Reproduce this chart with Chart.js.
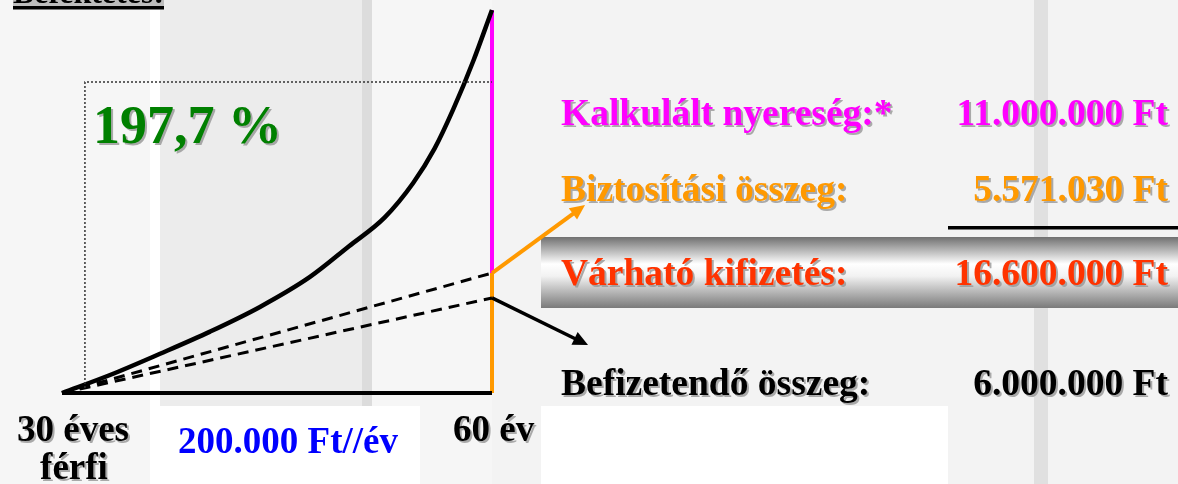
<!DOCTYPE html>
<html><head><meta charset="utf-8">
<script src="https://cdn.jsdelivr.net/npm/chart.js@4.4.1/dist/chart.umd.min.js"></script>
<style>html,body{margin:0;padding:0;background:#f1f1f1;overflow:hidden}#wrap{width:1178px;height:484px;position:relative}</style>
</head><body><div id="wrap"><canvas id="c" width="1178" height="484"></canvas></div>
<script>
// ---- data (életkor, millió Ft) ----
const ages   = [30, 33.35, 36.84, 40.33, 43.81, 47.30, 50.0, 52.5, 54.5, 56.0, 57.3, 58.7, 60];
const growth = [0, 0.78, 1.70, 2.66, 3.73, 5.03, 6.35, 7.60, 9.10, 10.60, 12.30, 14.40, 16.6];
const startAge = 30;
const endAge = 60;
const totalValue = 16.6;
const insuredSum = 5.2;
const paidIn = 4.12;
const boxAge = 31.6;
const boxTop = 13.48;
const boxBottom = 0.22;
const arrowOrangeTo = [66.49, 8.15];
const arrowBlackTo = [66.7, 2.08];

const rowLabels = ["Kalkulált nyereség:*", "Biztosítási összeg:", "Várható kifizetés:", "Befizetendő összeg:"];
const rowValues = ["11.000.000 Ft", "5.571.030 Ft", "16.600.000 Ft", "6.000.000 Ft"];
const rowColors = ["#ff00ff", "#ff9900", "#ff3300", "#000000"];
const percentLabel = "197,7 %";
const titleLabel = "Befektetés:";
const startLabel = ["30 éves", "férfi"];
const endLabel = "60 év";
const yearlyLabel = "200.000 Ft//év";

// ---- layout ----
const FONT = '"Liberation Serif","Times New Roman",serif';
const rowBase = [125, 201, 285, 395];

const deco = {
  id: 'deco',
  beforeDraw(chart) {
    const ctx = chart.ctx;
    ctx.save();
    ctx.fillStyle = '#f1f1f1';
    ctx.fillRect(0, 0, 1178, 484);
    ctx.fillStyle = '#f6f6f6'; ctx.fillRect(0, 0, 150, 484);
    ctx.fillStyle = '#ffffff'; ctx.fillRect(150, 0, 10, 484);
    ctx.fillStyle = '#ececec'; ctx.fillRect(160, 0, 202, 484);
    ctx.fillStyle = '#dcdcdc'; ctx.fillRect(362, 0, 10, 484);
    ctx.fillStyle = '#f6f6f6'; ctx.fillRect(372, 0, 120, 484);
    ctx.fillStyle = '#f3f3f3'; ctx.fillRect(492, 0, 686, 484);
    ctx.fillStyle = '#e0e0e0'; ctx.fillRect(1034, 0, 14, 484);
    // title highlight + underline
    ctx.fillStyle = '#bdbdbd'; ctx.fillRect(13, 0, 151, 6);
    ctx.font = 'bold 32px ' + FONT;
    ctx.fillStyle = '#000'; ctx.textBaseline = 'alphabetic'; ctx.textAlign = 'left';
    ctx.fillText(titleLabel, 13, 3);
    ctx.fillRect(13, 6, 151, 3.5);
    // white boxes
    ctx.fillStyle = '#ffffff';
    ctx.fillRect(157, 406, 263, 78);
    ctx.fillRect(541, 406, 407, 78);
    // gray bar
    const g = ctx.createLinearGradient(0, 237, 0, 308);
    g.addColorStop(0, '#707070');
    g.addColorStop(0.38, '#ffffff');
    g.addColorStop(0.55, '#f2f2f2');
    g.addColorStop(1, '#7a7a7a');
    ctx.fillStyle = g;
    ctx.fillRect(541, 237, 637, 71);
    // sum line
    ctx.fillStyle = '#000';
    ctx.fillRect(948, 226, 230, 3.5);
    ctx.restore();
  },
  afterDatasetsDraw(chart) {
    const ctx = chart.ctx, xs = chart.scales.x, ys = chart.scales.y;
    function arrow(from, to, color, w) {
      const x1 = xs.getPixelForValue(from[0]), y1 = ys.getPixelForValue(from[1]);
      const x2 = xs.getPixelForValue(to[0]), y2 = ys.getPixelForValue(to[1]);
      const a = Math.atan2(y2 - y1, x2 - x1), L = 15, W = 7;
      ctx.save();
      ctx.strokeStyle = color; ctx.fillStyle = color; ctx.lineWidth = w;
      ctx.beginPath(); ctx.moveTo(x1, y1);
      ctx.lineTo(x2 - Math.cos(a) * L * 0.8, y2 - Math.sin(a) * L * 0.8); ctx.stroke();
      ctx.beginPath(); ctx.moveTo(x2, y2);
      ctx.lineTo(x2 - Math.cos(a) * L - Math.sin(a) * W, y2 - Math.sin(a) * L + Math.cos(a) * W);
      ctx.lineTo(x2 - Math.cos(a) * L + Math.sin(a) * W, y2 - Math.sin(a) * L - Math.cos(a) * W);
      ctx.closePath(); ctx.fill();
      ctx.restore();
    }
    arrow([endAge, insuredSum], arrowOrangeTo, '#ff9900', 4);
    arrow([endAge, paidIn], arrowBlackTo, '#000000', 3.5);

    ctx.save();
    ctx.shadowColor = 'rgba(150,150,150,0.8)';
    ctx.shadowOffsetX = 2; ctx.shadowOffsetY = 2; ctx.shadowBlur = 0;
    ctx.textBaseline = 'alphabetic';
    ctx.font = 'bold 37.5px ' + FONT;
    rowLabels.forEach((t, i) => {
      ctx.fillStyle = rowColors[i];
      ctx.textAlign = 'left'; ctx.fillText(t, 561, rowBase[i]);
      ctx.textAlign = 'right'; ctx.fillText(rowValues[i], 1168, rowBase[i]);
    });
    ctx.font = 'bold 54px ' + FONT;
    ctx.fillStyle = '#008000'; ctx.textAlign = 'left';
    ctx.fillText(percentLabel, 93, 143);
    ctx.font = 'bold 37px ' + FONT;
    ctx.fillStyle = '#000'; ctx.textAlign = 'center';
    ctx.fillText(startLabel[0], 73, 441);
    ctx.fillText(startLabel[1], 74, 479);
    ctx.textAlign = 'left';
    ctx.fillText(endLabel, 453, 441);
    ctx.shadowColor = 'rgba(0,0,0,0)';
    ctx.font = 'bold 37px ' + FONT;
    ctx.fillStyle = '#0000ff'; ctx.textAlign = 'center';
    ctx.fillText(yearlyLabel, 288, 453);
    ctx.restore();
  }
};

const PXY = 14.3333, PXV = 23.07;
new Chart(document.getElementById('c'), {
  type: 'scatter',
  data: {
    datasets: [
      { data: [{x: boxAge, y: boxBottom}, {x: boxAge, y: boxTop}, {x: endAge, y: boxTop}],
        borderColor: '#333', borderWidth: 1.5, borderDash: [2, 2], showLine: true, pointRadius: 0 },
      { data: [{x: startAge, y: 0}, {x: endAge, y: insuredSum}],
        borderColor: '#000', borderWidth: 3, borderDash: [11, 7], showLine: true, pointRadius: 0 },
      { data: [{x: startAge, y: 0}, {x: endAge, y: paidIn}],
        borderColor: '#000', borderWidth: 3, borderDash: [11, 7], showLine: true, pointRadius: 0 },
      { data: ages.map((a, i) => ({x: a, y: growth[i]})),
        borderColor: '#000', borderWidth: 4.5, showLine: true, pointRadius: 0, cubicInterpolationMode: 'monotone' },
      { data: [{x: startAge, y: 0}, {x: endAge, y: 0}],
        borderColor: '#000', borderWidth: 4, showLine: true, pointRadius: 0 },
      { data: [{x: endAge, y: 0}, {x: endAge, y: insuredSum}],
        borderColor: '#ff9900', borderWidth: 4, showLine: true, pointRadius: 0 },
      { data: [{x: endAge, y: insuredSum}, {x: endAge, y: totalValue}],
        borderColor: '#ff00ff', borderWidth: 4, showLine: true, pointRadius: 0 }
    ]
  },
  options: {
    responsive: false, animation: false,
    layout: { padding: 0 },
    scales: {
      x: { type: 'linear', display: false, min: startAge - 62 / PXY, max: endAge + (1178 - 492) / PXY },
      y: { type: 'linear', display: false, min: -(484 - 393) / PXV, max: totalValue + 10 / PXV }
    },
    plugins: { legend: { display: false }, tooltip: { enabled: false } }
  },
  plugins: [deco]
});
</script></body></html>
